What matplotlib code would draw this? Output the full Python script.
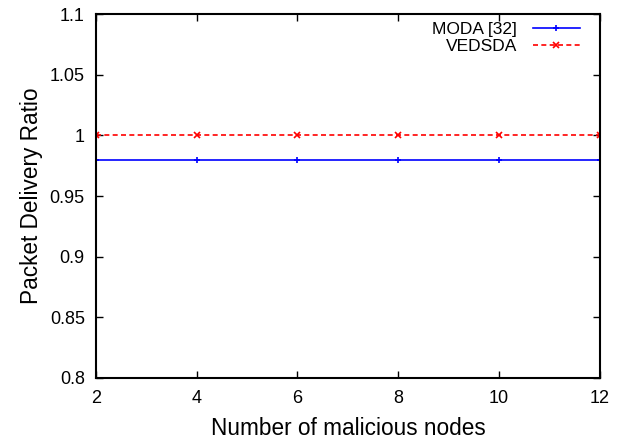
import matplotlib
matplotlib.use('Agg')
import matplotlib.pyplot as plt

plt.rcParams['font.family'] = ['Liberation Sans', 'DejaVu Sans']

nodes = [2, 4, 6, 8, 10, 12]
moda = [0.98, 0.98, 0.98, 0.98, 0.98, 0.98]
vedsda = [1.0, 1.0, 1.0, 1.0, 1.0, 1.0]

fig = plt.figure(figsize=(6.19, 4.42), dpi=100)
ax = fig.add_axes([0.155, 0.145, 0.814, 0.823])

ax.plot(nodes, moda, color='#0000ff', linestyle='-', linewidth=1.2,
        marker='+', markersize=5, markeredgewidth=1.2, label='MODA [32]')
ax.plot(nodes, vedsda, color='#ff0000', linestyle=(0, (3, 2)), linewidth=1.2,
        marker='x', markersize=4, markeredgewidth=1.2, label='VEDSDA')

ax.set_xlim(2, 12)
ax.set_ylim(0.8, 1.1)
ax.set_xticks(nodes)
ax.set_yticks([0.8, 0.85, 0.9, 0.95, 1.0, 1.05, 1.1])
ax.set_yticklabels(['0.8', '0.85', '0.9', '0.95', '1', '1.05', '1.1'])
ax.tick_params(direction='in', top=True, right=True, labelsize=13, length=5, width=1)
ax.tick_params(axis='x', pad=9)
ax.tick_params(axis='y', pad=8)
for s in ax.spines.values():
    s.set_linewidth(1.5)

ax.set_xlabel('Number of malicious nodes', fontsize=16.3, labelpad=7)
ax.set_ylabel('Packet Delivery Ratio', fontsize=16.3, labelpad=5)

leg = ax.legend(loc='upper right', frameon=False, fontsize=12.5, markerfirst=False,
                handlelength=2.7, handletextpad=0.9, borderaxespad=0, borderpad=0,
                labelspacing=0.08, bbox_to_anchor=(1 - 20 / 504, 1 - 8 / 364))

fig.savefig('out.png', dpi=100)
